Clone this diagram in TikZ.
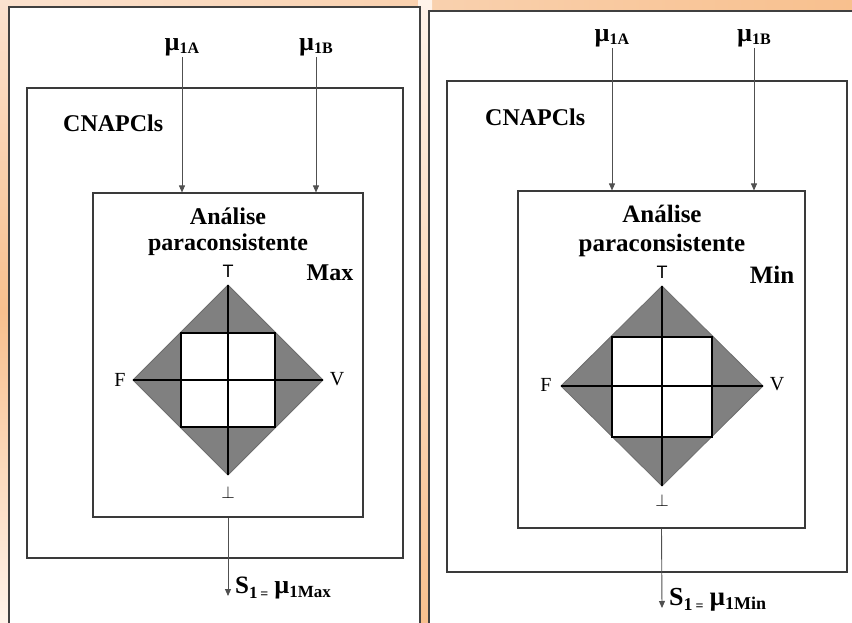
\documentclass[tikz,border=0pt]{standalone}
\usepackage{fontspec}
\setmainfont{Liberation Serif}
\newfontfamily\sansf{Liberation Sans}
\usetikzlibrary{arrows.meta}
\definecolor{peachA}{HTML}{F8C08E}
\definecolor{peachB}{HTML}{FBE2CF}
\definecolor{peachW}{HTML}{FFF3EA}
\definecolor{panelgray}{HTML}{404040}
\definecolor{boxgray}{HTML}{3A3A3A}
\definecolor{linegray}{HTML}{505050}
\definecolor{diagray}{HTML}{808080}
\newcommand\fsz[1]{\fontsize{#1}{#1}\selectfont}
\newcommand\mulab[1]{\bfseries\fsz{26}\textmu\raisebox{-3pt}{\fsz{16}#1}}
\begin{document}
\begin{tikzpicture}[x=1pt,y=-1pt,
  panel/.style={draw=panelgray,line width=2pt,fill=white},
  boxnode/.style={draw=boxgray,line width=1.1pt,rectangle,inner sep=0pt},
  conn/.style={draw=linegray,line width=0.9pt,-{Triangle[length=7pt,width=6pt]}},
  title/.style={font=\bfseries\fsz{24},inner sep=0pt},
  mu/.style={inner sep=1pt,font=\bfseries},
  corner/.style={font=\fsz{20},inner sep=0pt},
  topT/.style={font=\sansf\fsz{18},inner sep=0pt},
  dia/.style={fill=diagray,draw=diagray!85!black,line width=0.8pt},
  sq/.style={fill=white,draw=black,line width=1.3pt},
  cross/.style={draw=black,line width=1.1pt}]
\useasboundingbox (0,0) rectangle (852,623);
% background
\shade[left color=peachB,middle color=peachW,right color=peachA] (0,0) rectangle (852,623);
\shade[top color=peachB,bottom color=peachW,middle color=peachA] (0,0) rectangle (10,623);
\shade[top color=peachW,bottom color=peachA] (418,0) rectangle (432,623);
\clip (0,0) rectangle (852,623);
% panels
\draw[panel] (9,7) rectangle (420,640);
\draw[panel] (429,11) rectangle (870,640);

%%%%% LEFT PANEL
\node[boxnode,minimum width=376pt,minimum height=470pt] (cnapL) at (215,323) {};
\node[boxnode,fill=white,minimum width=270pt,minimum height=324pt] (anaL) at (228,355) {};
\node[title,anchor=west] (cnaptL) at (63,123) {CNAPCls};
\node[mu] (muLA) at (182,47) {\mulab{1A}};
\node[mu] (muLB) at (316,47) {\mulab{1B}};
\draw[conn] (muLA.south) -- (muLA.south |- anaL.north);
\draw[conn] (muLB.south) -- (muLB.south |- anaL.north);
\node[title] (an1L) at (228,216) {Análise};
\node[title] (an2L) at (228,245) {paraconsistente};
\node[title] (maxL) at (330,273) {Max};
% diamond
\coordinate (dTL) at (228,285);
\coordinate (dBL) at (228,475);
\coordinate (dFL) at (133,380);
\coordinate (dVL) at (323,380);
\path[dia] (dTL) -- (dVL) -- (dBL) -- (dFL) -- cycle;
\path[sq] (181,333) rectangle (275,427);
\draw[cross] (dTL) -- (dBL);
\draw[cross] (dFL) -- (dVL);
\node[topT] (tL) at (228,271) {T};
\node[corner] (fL) at (120,380) {F};
\node[corner] (vL) at (337,379) {V};
\node[inner sep=0pt] (bL) at (228,492) {\fsz{19}$\bot$};
% output
\coordinate (outL) at (228,596);
\draw[conn] (anaL.south) -- (outL);
\node[inner sep=0pt,anchor=west,font=\bfseries] (sL) at (235,588)
  {\fsz{25}S\raisebox{-5pt}{\fsz{17}1\,\fsz{14}=}\hspace{6pt}\fsz{26}\textmu\raisebox{-4pt}{\fsz{17}1Max}};

%%%%% RIGHT PANEL
\node[boxnode,minimum width=400pt,minimum height=491pt] (cnapR) at (647,326.5) {};
\node[boxnode,fill=white,minimum width=287pt,minimum height=337pt] (anaR) at (661.5,359.5) {};
\node[title,anchor=west] (cnaptR) at (485,117) {CNAPCls};
\node[mu] (muRA) at (612,38) {\mulab{1A}};
\node[mu] (muRB) at (754,38) {\mulab{1B}};
\draw[conn] (muRA.south) -- (muRA.south |- anaR.north);
\draw[conn] (muRB.south) -- (muRB.south |- anaR.north);
\node[title,font=\bfseries\fsz{25}] (an1R) at (662,214) {Análise};
\node[title,font=\bfseries\fsz{25}] (an2R) at (662,245) {paraconsistente};
\node[title,font=\bfseries\fsz{25}] (minR) at (772,275) {Min};
% diamond
\coordinate (dTR) at (662,286);
\coordinate (dBR) at (662,486);
\coordinate (dFR) at (561,386);
\coordinate (dVR) at (763,386);
\path[dia] (dTR) -- (dVR) -- (dBR) -- (dFR) -- cycle;
\path[sq] (612,337) rectangle (712,437);
\draw[cross] (dTR) -- (dBR);
\draw[cross] (dFR) -- (dVR);
\node[topT] (tR) at (662,272) {T};
\node[corner] (fR) at (546,385) {F};
\node[corner] (vR) at (777,384) {V};
\node[inner sep=0pt] (bR) at (662,500) {\fsz{19}$\bot$};
% output
\coordinate (outR) at (662,608);
\draw[conn] (anaR.south) -- (outR);
\node[inner sep=0pt,anchor=west,font=\bfseries] (sR) at (669,600)
  {\fsz{26}S\raisebox{-5pt}{\fsz{18}1\,\fsz{14}=}\hspace{6pt}\fsz{27}\textmu\raisebox{-4pt}{\fsz{18}1Min}};
\end{tikzpicture}
\end{document}
